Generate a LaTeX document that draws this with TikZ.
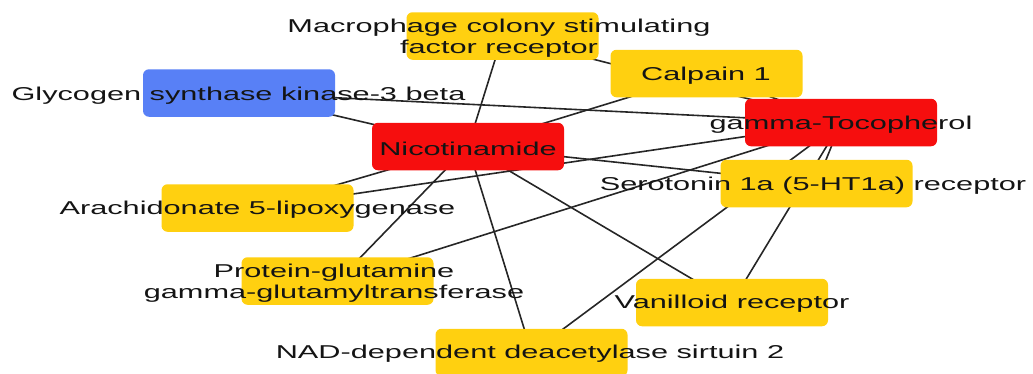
\documentclass[tikz,border=0pt]{standalone}
\usepackage{fontspec}
\newfontfamily\lblfont[FakeStretch=1.65]{Liberation Sans}
\definecolor{nodeyellow}{RGB}{255,208,16}
\definecolor{nodered}{RGB}{246,14,14}
\definecolor{nodeblue}{RGB}{88,128,246}
\pgfdeclarelayer{background}
\pgfsetlayers{background,main}
\tikzset{
  box/.style={rectangle, rounded corners=6pt, draw=none, inner sep=0pt,
    minimum width=192pt, minimum height=47.5pt},
  ybox/.style={box, fill=nodeyellow},
  rbox/.style={box, fill=nodered},
  bbox/.style={box, fill=nodeblue},
  lbl/.style={inner sep=0pt, align=center, text=black!92,
    font=\lblfont\fontsize{18.6}{21.5}\selectfont},
  edge/.style={line width=1.6pt, draw=black!85}
}
\begin{document}
\begin{tikzpicture}[x=1pt,y=-1pt]
\useasboundingbox (0,0) rectangle (1033,373);
% boxes
\node[ybox] (mcsf) at (502.5,36) {};
\node[ybox] (calp) at (706.5,73.5) {};
\node[bbox] (gsk)  at (239,93) {};
\node[rbox] (nic)  at (468,146.5) {};
\node[rbox] (toco) at (841,122.5) {};
\node[ybox] (sero) at (816.5,183.5) {};
\node[ybox] (arach) at (257.5,208) {};
\node[ybox] (prot) at (337.5,281) {};
\node[ybox] (vani) at (732,302.5) {};
\node[ybox] (nad)  at (531.5,352.5) {};
% labels
\node[lbl] (mcsf-t) at (499,38) {Macrophage colony stimulating\\factor receptor};
\node[lbl] (calp-t) at (706,76) {Calpain 1};
\node[lbl] (gsk-t)  at (238.5,96) {Glycogen synthase kinase-3 beta};
\node[lbl] (nic-t)  at (468,149) {Nicotinamide};
\node[lbl] (toco-t) at (841,125) {gamma-Tocopherol};
\node[lbl] (sero-t) at (813,186) {Serotonin 1a (5-HT1a) receptor};
\node[lbl] (arach-t) at (257.5,210) {Arachidonate 5-lipoxygenase};
\node[lbl] (prot-t) at (334,283) {Protein-glutamine\\gamma-glutamyltransferase};
\node[lbl] (vani-t) at (732,304) {Vanilloid receptor};
\node[lbl] (nad-t)  at (530,354) {NAD-dependent deacetylase sirtuin 2};
% edges
\begin{pgfonlayer}{background}
\draw[edge] (nic.center) -- (mcsf.center);
\draw[edge] (nic.center) -- (gsk.center);
\draw[edge] (nic.center) -- (calp.center);
\draw[edge] (nic.center) -- (arach.center);
\draw[edge] (nic.center) -- (prot.center);
\draw[edge] (nic.center) -- (nad.center);
\draw[edge] (nic.center) -- (vani.center);
\draw[edge] (nic.center) -- (sero.center);
\draw[edge] (toco.center) -- (mcsf.center);
\draw[edge] (toco.center) -- (calp.center);
\draw[edge] (toco.center) -- (gsk.center);
\draw[edge] (toco.center) -- (arach.center);
\draw[edge] (toco.center) -- (prot.center);
\draw[edge] (toco.center) -- (sero.center);
\draw[edge] (toco.center) -- (vani.center);
\draw[edge] (toco.center) -- (nad.center);
\end{pgfonlayer}
\end{tikzpicture}
\end{document}
